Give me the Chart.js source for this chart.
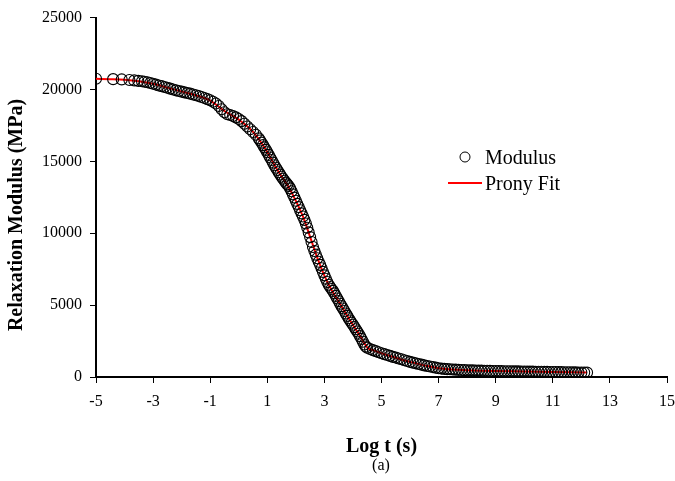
<!DOCTYPE html>
<html>
<head>
<meta charset="utf-8">
<title>Relaxation modulus</title>
<script src="https://cdn.jsdelivr.net/npm/chart.js@4.4.1/dist/chart.umd.min.js"></script>
<style>
    html, body { margin: 0; padding: 0; background: #fff; }
    #wrap { width: 675px; height: 481px; }
</style>
</head>
<body>
<div id="wrap"><canvas id="relaxChart" width="675" height="481"></canvas></div>
<script>
// measured master curve: log time (s) and relaxation modulus (MPa)
const logTime = [
    -5.00, -4.40, -4.10, -3.83, -3.66, -3.52, -3.39,
    -3.3, -3.2, -3.1, -3.0, -2.9, -2.8, -2.7, -2.6, -2.5, -2.4, -2.3, -2.2, -2.1, -2.0,
    -1.9, -1.8, -1.7, -1.6, -1.5, -1.4, -1.3, -1.2, -1.1, -1.0,
    -0.9, -0.8, -0.7, -0.6, -0.5, -0.4, -0.3, -0.2, -0.1, 0.0,
    0.1, 0.2, 0.3, 0.4, 0.5, 0.6, 0.7,
    0.75, 0.80, 0.85, 0.90, 0.95, 1.00, 1.05, 1.10, 1.15, 1.20, 1.25, 1.30, 1.35, 1.40, 1.45,
    1.50, 1.55, 1.60, 1.65, 1.70, 1.75, 1.80, 1.85, 1.90, 1.95, 2.00, 2.05, 2.10, 2.15, 2.20,
    2.25, 2.30, 2.35, 2.40, 2.45, 2.50, 2.55, 2.60, 2.65, 2.70, 2.75, 2.80, 2.85, 2.90, 2.95,
    3.00, 3.05, 3.10, 3.15, 3.20, 3.25, 3.30, 3.35, 3.40, 3.45, 3.50, 3.55, 3.60, 3.65, 3.70,
    3.75, 3.80, 3.85, 3.90, 3.95, 4.00, 4.05, 4.10, 4.15, 4.20, 4.25, 4.30, 4.35, 4.40, 4.45,
    4.5, 4.6, 4.7, 4.8, 4.9, 5.0, 5.1, 5.2, 5.3, 5.4, 5.5, 5.6, 5.7, 5.8, 5.9,
    6.0, 6.1, 6.2, 6.3, 6.4, 6.5, 6.6, 6.7, 6.8, 6.9, 7.0, 7.1, 7.2, 7.3, 7.4,
    7.5, 7.6, 7.7, 7.8, 7.9, 8.0, 8.1, 8.2, 8.3, 8.4, 8.5, 8.6, 8.7, 8.8, 8.9,
    9.0, 9.1, 9.2, 9.3, 9.4, 9.5, 9.6, 9.7, 9.8, 9.9, 10.0, 10.1, 10.2, 10.3, 10.4,
    10.5, 10.6, 10.7, 10.8, 10.9, 11.0, 11.1, 11.2, 11.3, 11.4, 11.5, 11.6, 11.7, 11.8, 11.9,
    12.0, 12.1, 12.2
];
const modulus = [
    20750, 20720, 20700, 20660, 20630, 20600, 20570,
    20540, 20500, 20450, 20400, 20340, 20280, 20230, 20170, 20120, 20060, 20000, 19940, 19890, 19850,
    19800, 19760, 19710, 19650, 19600, 19540, 19480, 19410, 19330, 19250,
    19150, 19020, 18850, 18620, 18420, 18280, 18220, 18150, 18060, 17950,
    17800, 17620, 17420, 17230, 17040, 16850, 16600,
    16450, 16300, 16130, 15970, 15800, 15630, 15450, 15270, 15090, 14910, 14730, 14560, 14400, 14240, 14080,
    13930, 13790, 13650, 13520, 13400, 13280, 13120, 12920, 12700, 12480, 12260, 12040, 11820, 11600, 11380,
    11160, 10930, 10680, 10380, 10060, 9730, 9390, 9040, 8760, 8510, 8260, 8020, 7800, 7560, 7310,
    7070, 6830, 6610, 6420, 6260, 6120, 5990, 5820, 5640, 5460, 5280, 5100, 4930, 4760, 4590,
    4420, 4250, 4090, 3930, 3780, 3630, 3470, 3320, 3160, 3010, 2840, 2650, 2450, 2260, 2120,
    2040, 1950, 1870, 1800, 1720, 1650, 1590, 1530, 1470, 1400, 1350, 1290, 1230, 1170, 1110,
    1050, 1000, 950, 900, 860, 810, 770, 730, 690, 650, 610, 585, 565, 548, 535,
    522, 510, 498, 488, 478, 470, 464, 458, 452, 446, 440, 435, 430, 425, 419,
    414, 410, 406, 403, 400, 397, 394, 391, 388, 385, 382, 379, 376, 372, 369,
    366, 362, 359, 355, 352, 348, 345, 341, 338, 334, 331, 327, 324, 320, 317,
    313, 310, 306
];

// Prony series fit
const fitLogTime = [
    -5.0, -4.5, -4.0, -3.5, -3.0, -2.5, -2.0, -1.5, -1.0, -0.5, 0.0, 0.5, 1.0, 1.25, 1.5, 1.75,
    2.0, 2.25, 2.5, 2.75, 3.0, 3.25, 3.5, 3.75, 4.0, 4.25, 4.5, 4.75, 5.0, 5.5, 6.0, 6.5,
    7.0, 7.5, 8.0, 9.0, 10.0, 11.0, 12.2
];
const fitModulus = [
    20740, 20720, 20680, 20580, 20400, 20130, 19850, 19590, 19230, 18500, 17900, 17050, 15650, 14750, 13950, 13200,
    12250, 11150, 9750, 8300, 7050, 6050, 5250, 4420, 3620, 2850, 2050, 1830, 1650, 1340, 1050, 810,
    610, 520, 470, 414, 382, 348, 306
];

const xTickValues = [-5, -3, -1, 1, 3, 5, 7, 9, 11, 13, 15];
const yTickValues = [0, 5000, 10000, 15000, 20000, 25000];

const serif = "'Liberation Serif', 'Times New Roman', serif";

const modulusPoints = logTime.map((t, i) => ({ x: t, y: modulus[i] }));
const fitPoints = fitLogTime.map((t, i) => ({ x: t, y: fitModulus[i] }));

// legend, y axis title and caption are drawn by hand
const extrasPlugin = {
    id: 'extras',
    afterDraw(chart) {
        const ctx = chart.ctx;
        ctx.save();
        ctx.fillStyle = '#000';

        ctx.font = 'bold 20px ' + serif;
        ctx.textAlign = 'center';
        ctx.textBaseline = 'middle';
        ctx.translate(17, 215);
        ctx.rotate(-Math.PI / 2);
        ctx.fillText('Relaxation Modulus (MPa)', 0, 0);
        ctx.setTransform(1, 0, 0, 1, 0, 0);

        ctx.font = '16px ' + serif;
        ctx.fillText('(a)', 381, 466);

        ctx.strokeStyle = '#000';
        ctx.lineWidth = 1;
        ctx.beginPath();
        ctx.arc(465, 157, 5, 0, Math.PI * 2);
        ctx.stroke();

        ctx.strokeStyle = '#ff0000';
        ctx.lineWidth = 2;
        ctx.beginPath();
        ctx.moveTo(448, 183);
        ctx.lineTo(482, 183);
        ctx.stroke();

        ctx.font = '20px ' + serif;
        ctx.textAlign = 'left';
        ctx.textBaseline = 'alphabetic';
        ctx.fillText('Modulus', 485, 163.5);
        ctx.fillText('Prony Fit', 485, 190);
        ctx.restore();
    }
};

new Chart(document.getElementById('relaxChart'), {
    type: 'scatter',
    data: {
        datasets: [{
            label: 'Modulus',
            data: modulusPoints,
            showLine: false,
            pointStyle: 'circle',
            pointRadius: 5.5,
            pointBorderWidth: 1.1,
            borderColor: '#000',
            backgroundColor: 'rgba(0,0,0,0)',
            order: 1
        }, {
            label: 'Prony Fit',
            data: fitPoints,
            showLine: true,
            pointRadius: 0,
            borderColor: '#ff0000',
            borderWidth: 2,
            cubicInterpolationMode: 'monotone',
            fill: false,
            order: 2
        }]
    },
    options: {
        responsive: false,
        animation: false,
        devicePixelRatio: 1,
        layout: { padding: { left: 0, right: 8, top: 17, bottom: 0 } },
        plugins: {
            legend: { display: false },
            tooltip: { enabled: false }
        },
        scales: {
            x: {
                type: 'linear',
                min: -5,
                max: 15,
                afterBuildTicks: scale => { scale.ticks = xTickValues.map(v => ({ value: v })); },
                afterFit: scale => {
                    scale.height = 104;
                    scale.paddingLeft = 0;
                    scale.paddingRight = 0;
                },
                ticks: {
                    font: { family: serif, size: 16 },
                    color: '#000',
                    padding: 9,
                    maxRotation: 0,
                    autoSkip: false,
                    callback: v => String(v)
                },
                grid: { display: true, drawOnChartArea: false, drawTicks: true, tickLength: 6, color: '#000', lineWidth: 1 },
                border: { display: true, color: '#000', width: 2 },
                title: {
                    display: true,
                    text: 'Log t (s)',
                    color: '#000',
                    font: { family: serif, size: 20, weight: 'bold' },
                    padding: { top: 0, bottom: 22 }
                }
            },
            y: {
                type: 'linear',
                min: 0,
                max: 25000,
                afterBuildTicks: scale => { scale.ticks = yTickValues.map(v => ({ value: v })); },
                afterFit: scale => { scale.width = 96; },
                ticks: {
                    font: { family: serif, size: 16 },
                    color: '#000',
                    padding: 8,
                    callback: v => String(v)
                },
                grid: { display: true, drawOnChartArea: false, drawTicks: true, tickLength: 6, color: '#000', lineWidth: 1 },
                border: { display: true, color: '#000', width: 2 }
            }
        }
    },
    plugins: [extrasPlugin]
});
</script>
</body>
</html>
